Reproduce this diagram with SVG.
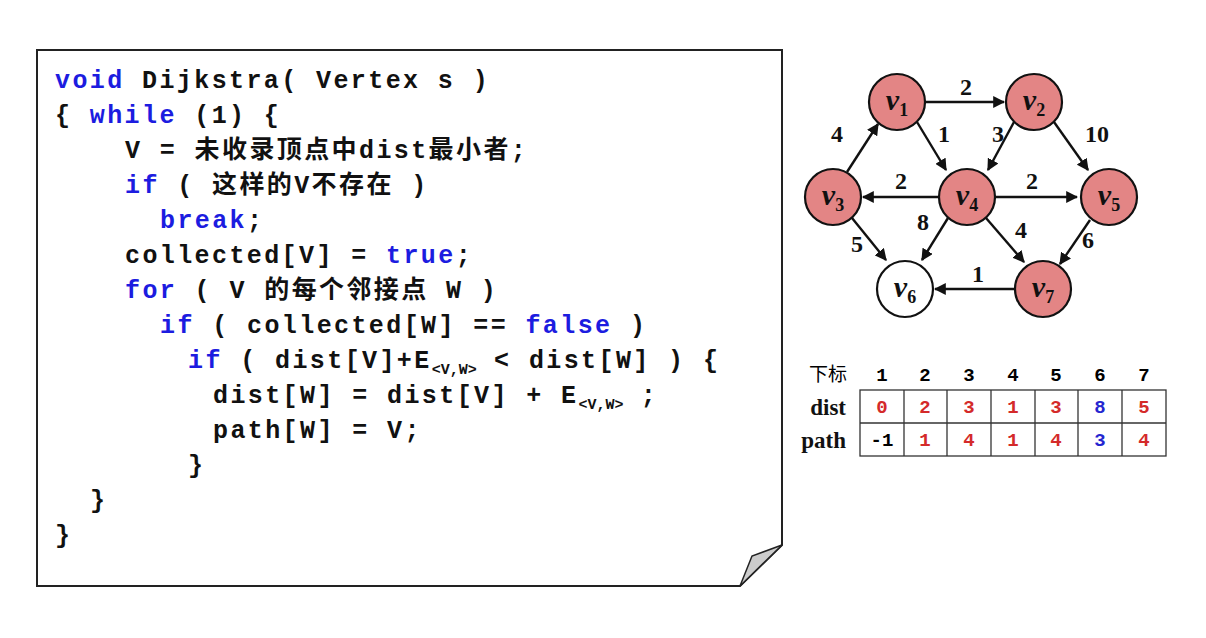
<svg xmlns="http://www.w3.org/2000/svg" width="1206" height="638" viewBox="0 0 1206 638">
<style>
.c{font-family:"Liberation Mono","Noto Sans CJK SC",monospace;font-weight:bold;font-size:25px;fill:#111;letter-spacing:2.4px}
.k{fill:#1c1ce0}
.s{font-size:15px;letter-spacing:0}
.n{fill:#e38585;stroke:#111;stroke-width:2.2}
.v{font-family:"Liberation Serif",serif;font-style:italic;font-weight:bold;font-size:30px;fill:#111;text-anchor:middle}
.vs{font-style:normal;font-size:18px}
.w{font-family:"Liberation Serif",serif;font-weight:bold;font-size:24px;fill:#111;text-anchor:middle}
.e{stroke:#111;stroke-width:2.4;fill:none;marker-end:url(#a)}
.t{font-family:"Liberation Mono",monospace;font-weight:bold;font-size:19px;text-anchor:middle}
.r{fill:#d42a2a}.b{fill:#2525d0}
.h{font-family:"Liberation Serif",serif;font-weight:bold;font-size:23px;fill:#111;text-anchor:end}
</style>
<defs><marker id="a" viewBox="0 0 10 10" refX="9" refY="5" markerWidth="5" markerHeight="5" orient="auto"><path d="M0,0L10,5L0,10z" fill="#111"/></marker></defs>
<rect width="1206" height="638" fill="#fff"/>
<g id="paper">
<path d="M37,50H782V545L740,586H37Z" fill="#fff" stroke="#222" stroke-width="2"/>
<path d="M740,586L752,556L782,545Z" fill="#ccc" stroke="#222" stroke-width="1.5"/>
</g>
<g id="code">
<text class="c" x="55" y="88"><tspan class="k">void</tspan> Dijkstra( Vertex s )</text>
<text class="c" x="55" y="123">{ <tspan class="k">while</tspan> (1) {</text>
<text class="c" x="125" y="158">V = 未收录顶点中dist最小者;</text>
<text class="c" x="125" y="193"><tspan class="k">if</tspan> ( 这样的V不存在 )</text>
<text class="c" x="160" y="228"><tspan class="k">break</tspan>;</text>
<text class="c" x="125" y="263">collected[V] = <tspan class="k">true</tspan>;</text>
<text class="c" x="125" y="298"><tspan class="k">for</tspan> ( V 的每个邻接点 W )</text>
<text class="c" x="160" y="333"><tspan class="k">if</tspan> ( collected[W] == <tspan class="k">false</tspan> )</text>
<text class="c" x="188" y="368"><tspan class="k">if</tspan> ( dist[V]+E<tspan class="s" dy="6">&lt;V,W&gt;</tspan><tspan dy="-6"> &lt; dist[W] ) {</tspan></text>
<text class="c" x="213" y="403">dist[W] = dist[V] + E<tspan class="s" dy="6">&lt;V,W&gt;</tspan><tspan dy="-6"> ;</tspan></text>
<text class="c" x="213" y="438">path[W] = V;</text>
<text class="c" x="188" y="473">}</text>
<text class="c" x="90" y="508">}</text>
<text class="c" x="55" y="543">}</text>
</g>
<g id="edges">
<line class="e" x1="925" y1="102" x2="1004" y2="102"/>
<line class="e" x1="917" y1="122" x2="946" y2="170"/>
<line class="e" x1="1014" y1="122" x2="988" y2="170"/>
<line class="e" x1="1054" y1="122" x2="1088" y2="170"/>
<line class="e" x1="847" y1="172" x2="878" y2="124"/>
<line class="e" x1="939" y1="197" x2="863" y2="197"/>
<line class="e" x1="995" y1="197" x2="1077" y2="197"/>
<line class="e" x1="852" y1="218" x2="886" y2="260"/>
<line class="e" x1="948" y1="218" x2="922" y2="260"/>
<line class="e" x1="986" y1="218" x2="1024" y2="262"/>
<line class="e" x1="1090" y1="220" x2="1060" y2="264"/>
<line class="e" x1="1015" y1="289" x2="935" y2="289"/>
</g>
<g id="weights">
<text class="w" x="966" y="95">2</text>
<text class="w" x="944" y="142">1</text>
<text class="w" x="998" y="142">3</text>
<text class="w" x="1097" y="142">10</text>
<text class="w" x="837" y="142">4</text>
<text class="w" x="901" y="189">2</text>
<text class="w" x="1032" y="189">2</text>
<text class="w" x="857" y="252">5</text>
<text class="w" x="923" y="230">8</text>
<text class="w" x="1021" y="238">4</text>
<text class="w" x="1088" y="248">6</text>
<text class="w" x="978" y="282">1</text>
</g>
<g id="v1"><circle class="n" cx="897" cy="102" r="28"/><text class="v" x="897" y="110">v<tspan class="vs" dy="6">1</tspan></text></g>
<g id="v2"><circle class="n" cx="1034" cy="102" r="28"/><text class="v" x="1034" y="110">v<tspan class="vs" dy="6">2</tspan></text></g>
<g id="v3"><circle class="n" cx="833" cy="197" r="28"/><text class="v" x="833" y="205">v<tspan class="vs" dy="6">3</tspan></text></g>
<g id="v4"><circle class="n" cx="967" cy="197" r="28"/><text class="v" x="967" y="205">v<tspan class="vs" dy="6">4</tspan></text></g>
<g id="v5"><circle class="n" cx="1109" cy="197" r="28"/><text class="v" x="1109" y="205">v<tspan class="vs" dy="6">5</tspan></text></g>
<g id="v6"><circle class="n" style="fill:#fff" cx="905" cy="289" r="28"/><text class="v" x="905" y="297">v<tspan class="vs" dy="6">6</tspan></text></g>
<g id="v7"><circle class="n" cx="1043" cy="289" r="28"/><text class="v" x="1043" y="297">v<tspan class="vs" dy="6">7</tspan></text></g>
<g id="table">
<text x="847" y="381" style="font-family:'Noto Sans CJK SC',sans-serif;font-size:19px;text-anchor:end">下标</text>
<g class="t"><text x="882" y="381">1</text><text x="925" y="381">2</text><text x="969" y="381">3</text><text x="1013" y="381">4</text><text x="1056" y="381">5</text><text x="1100" y="381">6</text><text x="1144" y="381">7</text></g>
<text class="h" x="846" y="415">dist</text><text class="h" x="846" y="448">path</text>
<g fill="none" stroke="#333" stroke-width="1.3">
<rect x="860" y="390" width="306" height="66"/><line x1="860" y1="423" x2="1166" y2="423"/>
<line x1="904" y1="390" x2="904" y2="456"/><line x1="947" y1="390" x2="947" y2="456"/><line x1="991" y1="390" x2="991" y2="456"/><line x1="1035" y1="390" x2="1035" y2="456"/><line x1="1078" y1="390" x2="1078" y2="456"/><line x1="1122" y1="390" x2="1122" y2="456"/>
</g>
<g class="t"><text class="r" x="882" y="413">0</text><text class="r" x="925" y="413">2</text><text class="r" x="969" y="413">3</text><text class="r" x="1013" y="413">1</text><text class="r" x="1056" y="413">3</text><text class="b" x="1100" y="413">8</text><text class="r" x="1144" y="413">5</text>
<text x="882" y="446">-1</text><text class="r" x="925" y="446">1</text><text class="r" x="969" y="446">4</text><text class="r" x="1013" y="446">1</text><text class="r" x="1056" y="446">4</text><text class="b" x="1100" y="446">3</text><text class="r" x="1144" y="446">4</text></g>
</g>
</svg>
